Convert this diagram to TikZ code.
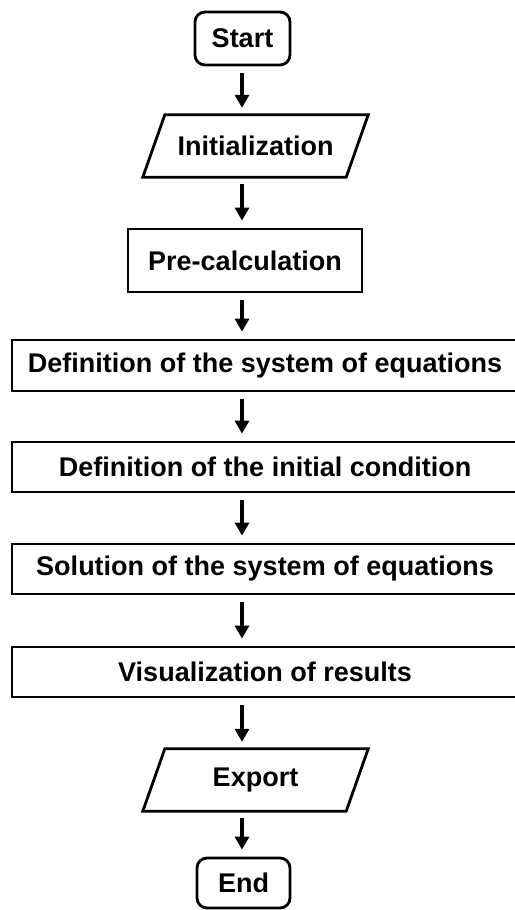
\documentclass[tikz,border=0pt]{standalone}
\usepackage{fontspec}
\setmainfont{Liberation Sans}
\usetikzlibrary{arrows.meta}
\tikzset{
  txt/.style={font=\fontsize{27}{32}\selectfont\bfseries, inner sep=0pt, align=center},
  boxline/.style={draw=black, line width=2.8pt},
  procbox/.style={txt, boxline, rectangle},
  termbox/.style={txt, boxline, rectangle, rounded corners=10pt},
  arr/.style={line width=3.2pt, -{Triangle[width=14pt,length=13pt]}, shorten <=7pt, shorten >=7pt},
}
\begin{document}
\begin{tikzpicture}[x=1pt,y=-1pt]
\useasboundingbox (0,0) rectangle (514,910);
\fill[white] (0,0) rectangle (514,910);
\coordinate (ax) at (242,0);
% terminals
\node[termbox, minimum width=95pt, minimum height=53pt] (start) at (242.5,38.5) {Start};
\node[termbox, minimum width=93pt, minimum height=50pt] (end) at (243.5,883) {End};
% parallelograms (text nodes + outline)
\node[txt, minimum width=203pt, minimum height=62pt] (init) at (255.5,146) {Initialization};
\draw[boxline, line join=miter] ([xshift=11pt]init.north west) -- ([xshift=11pt]init.north east)
   -- ([xshift=-11pt]init.south east) -- ([xshift=-11pt]init.south west) -- cycle;
\node[txt, minimum width=203pt, minimum height=62pt] (export) at (255.5,780) {Export};
\draw[boxline, line join=miter] ([xshift=11pt]export.north west) -- ([xshift=11pt]export.north east)
   -- ([xshift=-11pt]export.south east) -- ([xshift=-11pt]export.south west) -- cycle;
% process boxes
\node[procbox, minimum width=234pt, minimum height=63pt] (pre) at (245,260.5) {Pre-calculation};
\node[procbox, minimum width=506pt, minimum height=51pt] (sys) at (265,365.5) {Definition of the system of equations};
\node[procbox, minimum width=506pt, minimum height=50pt] (ini) at (265,467) {Definition of the initial condition};
\node[procbox, minimum width=506pt, minimum height=50pt] (sol) at (265,569) {Solution of the system of equations};
\node[procbox, minimum width=506pt, minimum height=50pt] (vis) at (265,672) {Visualization of results};
% connectors
\draw[arr] (ax |- start.south) -- (ax |- init.north);
\draw[arr] (ax |- init.south) -- (ax |- pre.north);
\draw[arr] (ax |- pre.south) -- (ax |- sys.north);
\draw[arr] (ax |- sys.south) -- (ax |- ini.north);
\draw[arr] (ax |- ini.south) -- (ax |- sol.north);
\draw[arr] (ax |- sol.south) -- (ax |- vis.north);
\draw[arr] (ax |- vis.south) -- (ax |- export.north);
\draw[arr] (ax |- export.south) -- (ax |- end.north);
\end{tikzpicture}
\end{document}
